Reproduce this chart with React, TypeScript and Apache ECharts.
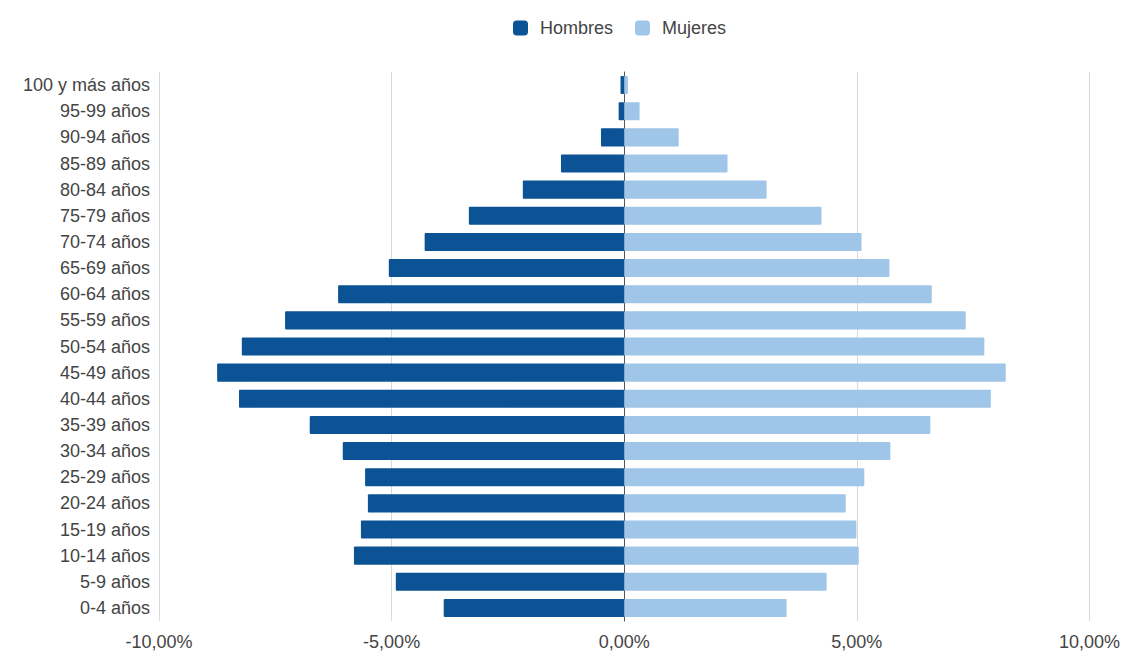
import React, { useEffect, useRef } from "react";
import * as echarts from "echarts";

const categories = [
  "100 y más años", "95-99 años", "90-94 años", "85-89 años", "80-84 años",
  "75-79 años", "70-74 años", "65-69 años", "60-64 años", "55-59 años",
  "50-54 años", "45-49 años", "40-44 años", "35-39 años", "30-34 años",
  "25-29 años", "20-24 años", "15-19 años", "10-14 años", "5-9 años", "0-4 años",
];

const hombres = [
  -0.08, -0.12, -0.5, -1.36, -2.18, -3.34, -4.29, -5.06, -6.15, -7.29,
  -8.22, -8.75, -8.28, -6.76, -6.05, -5.57, -5.51, -5.66, -5.81, -4.91, -3.88,
];

const mujeres = [
  0.08, 0.33, 1.17, 2.22, 3.06, 4.24, 5.1, 5.7, 6.61, 7.34,
  7.74, 8.2, 7.88, 6.58, 5.72, 5.16, 4.76, 4.99, 5.04, 4.35, 3.49,
];

const fmt = (v: number) => v.toFixed(2).replace(".", ",") + "%";

export default function App() {
  const ref = useRef<HTMLDivElement>(null);
  useEffect(() => {
    const chart = echarts.init(ref.current!, null, { renderer: "svg" });
    const font = "Liberation Sans, Arial, sans-serif";
    chart.setOption({
      animation: false,
      textStyle: { fontFamily: font },
      legend: {
        top: 14,
        left: 508,
        itemWidth: 15,
        itemHeight: 15,
        itemGap: 22,
        icon: "roundRect",
        textStyle: { fontSize: 18, color: "#444", fontFamily: font, padding: [0, 0, 0, 7] },
        data: ["Hombres", "Mujeres"],
      },
      grid: { left: 159, right: 33, top: 72, bottom: 32, containLabel: false },
      xAxis: {
        type: "value",
        min: -10,
        max: 10,
        interval: 5,
        axisLine: { show: false },
        axisTick: { show: false },
        splitLine: { show: true, lineStyle: { color: "#d9d9d9", width: 1 } },
        axisLabel: {
          formatter: (v: number) => fmt(v),
          fontSize: 18,
          color: "#444",
          margin: 12,
          fontFamily: font,
        },
      },
      yAxis: {
        type: "category",
        data: categories,
        inverse: true,
        axisLine: { show: true, onZero: true, lineStyle: { color: "#555", width: 1 } },
        axisTick: { show: false },
        axisLabel: {
          fontSize: 18,
          color: "#444",
          margin: 9,
          fontFamily: font,
        },
      },
      series: [
        {
          name: "Hombres",
          type: "bar",
          stack: "total",
          data: hombres,
          barWidth: "69%",
          itemStyle: { color: "#0b5394", borderRadius: 1 },
        },
        {
          name: "Mujeres",
          type: "bar",
          stack: "total",
          data: mujeres,
          barWidth: "69%",
          itemStyle: { color: "#9fc5e8", borderRadius: 1 },
        },
      ],
    });
    return () => chart.dispose();
  }, []);
  return (
    <div
      ref={ref}
      style={{ position: "fixed", left: 0, top: 0, width: 1123, height: 653, background: "#fff" }}
    />
  );
}
